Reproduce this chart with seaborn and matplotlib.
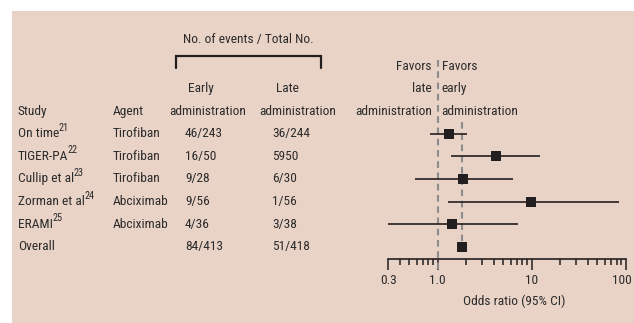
import matplotlib
matplotlib.use("Agg")
import matplotlib.pyplot as plt
import matplotlib.transforms as mtransforms
from matplotlib import font_manager as fm
from matplotlib.patches import Rectangle
import numpy as np
import pandas as pd
import seaborn as sns

# ---- data -------------------------------------------------------------
studies = ["On time", "TIGER-PA", "Cullip et al", "Zorman et al", "ERAMI", "Overall"]
refs = ["21", "22", "23", "24", "25", ""]
agents = ["Tirofiban", "Tirofiban", "Tirofiban", "Abciximab", "Abciximab", ""]
early = ["46/243", "16/50", "9/28", "9/56", "4/36", "84/413"]
late = ["36/244", "5950", "6/30", "1/56", "3/38", "51/418"]
odds_ratio = [1.34, 4.14, 1.88, 9.9, 1.43, 1.8]
ci_low = [0.84, 1.40, 0.58, 1.29, 0.30, np.nan]
ci_high = [2.07, 12.4, 6.3, 85.7, 7.15, np.nan]
tick_values = [0.3, 1.0, 10, 100]
tick_labels = ["0.3", "1.0", "10", "100"]

df = pd.DataFrame({"study": studies, "or": odds_ratio, "lo": ci_low,
                   "hi": ci_high, "row": np.arange(len(studies))})

# ---- style ------------------------------------------------------------
sns.set_theme(style="white")


def pick_condensed_font():
    """Return a FontProperties for a narrow regular sans face if one exists."""
    prefs = ["Roboto Condensed", "Liberation Sans Narrow", "Open Sans Condensed",
             "Noto Sans Condensed", "DejaVu Sans Condensed", "Arial Narrow"]
    entries = fm.fontManager.ttflist
    for name in prefs:
        for f in entries:
            if f.name == name and f.style == "normal" and f.weight in (400, "normal", "regular"):
                return fm.FontProperties(fname=f.fname), True
    for f in entries:
        st = f.stretch
        narrow = ("condensed" in str(st) and "semi" not in str(st)) or \
                 (isinstance(st, (int, float)) and st <= 300) or \
                 "Condensed" in f.fname or "Narrow" in f.fname
        if narrow and f.style == "normal" and f.weight in (400, "normal", "regular") \
                and "Mono" not in f.name and "Serif" not in f.name:
            return fm.FontProperties(fname=f.fname), True
    return fm.FontProperties(family="Roboto"), False


FP, is_narrow = pick_condensed_font()
TXT = "#2b2b2b"
INK = "#231f20"
BG = "#e9d3c7"
FS = 9.6 if is_narrow else 8.3
FS_SUP = 7.4 if is_narrow else 6.4

W, H = 634, 323
fig = plt.figure(figsize=(W / 100, H / 100), dpi=100)
fig.patch.set_facecolor("white")
fig.patches.append(Rectangle((12 / W, 0), 1 - 12 / W, 1 - 11 / H,
                             transform=fig.transFigure, facecolor=BG,
                             edgecolor="none", zorder=-10))

# forest axes: x spans 0.3..100 (log), y in row units
x0, x1 = 388.3, 625.7
row0, rowstep = 133.7, 22.6


def row_of(py):
    return (py - row0) / rowstep


ax = fig.add_axes([x0 / W, 0, (x1 - x0) / W, 1 - 11 / H])
ax.set_facecolor("none")
ax.set_xscale("log")
ax.set_xlim(0.3, 100)
ax.set_ylim(row_of(H), row_of(11))

# reference lines
dash = dict(color="#8c8c8c", linewidth=1.5, linestyles=(0, (3.2, 2.2)))
ax.vlines(1.0, row_of(60), row_of(270), **dash)
ax.vlines(odds_ratio[-1], row_of(122), 5 - 0.2, **dash)

# confidence intervals and point estimates
ax.hlines(df["row"], df["lo"], df["hi"], color=INK, linewidth=1.2, zorder=3)
sns.scatterplot(data=df, x="or", y="row", marker="s", s=62, color=INK,
                edgecolor=INK, linewidth=0, ax=ax, zorder=4, legend=False)

# axis styling
for s in ["top", "right", "left"]:
    ax.spines[s].set_visible(False)
ax.spines["bottom"].set_position(("data", row_of(259)))
ax.spines["bottom"].set_color(INK)
ax.spines["bottom"].set_linewidth(1.2)
ax.set_yticks([])
ax.set_xticks(tick_values)
ax.set_xticklabels(tick_labels)
minor = [v for d in (0.1, 1, 10) for v in np.arange(2, 10) * d if 0.3 < v < 100]
ax.set_xticks(minor, minor=True)
ax.xaxis.set_minor_formatter(matplotlib.ticker.NullFormatter())
ax.tick_params(axis="x", which="major", direction="out", length=8, width=1.1,
               color=INK, labelcolor=TXT, pad=2.5, bottom=True)
ax.tick_params(axis="x", which="minor", direction="out", length=4.5, width=1.1,
               color=INK, bottom=True)
for lab in ax.get_xticklabels():
    lab.set_fontproperties(FP)
    lab.set_fontsize(FS)
# keep the rightmost tick label inside the panel
last = ax.get_xticklabels()[-1]
last.set_horizontalalignment("right")
last.set_transform(last.get_transform() +
                   mtransforms.ScaledTranslation(6 / 100, 0, fig.dpi_scale_trans))
ax.set_xlabel("")
ax.set_ylabel("")

# text columns (x in figure pixels, y in rows)
tr = mtransforms.blended_transform_factory(fig.transFigure, ax.transData)


def put(px, row, s, ha="left", size=FS, **kw):
    return ax.text(px / W, row, s, transform=tr, ha=ha, va="center",
                   fontproperties=FP, fontsize=size, color=TXT, **kw)


put(18, -1, "Study")
put(112.7, -1, "Agent")
put(207.3, -1, "administration", ha="center")
put(298, -1, "administration", ha="center")
put(200.5, -2, "Early", ha="center")
put(287, -2, "Late", ha="center")
put(248.3, row_of(39.3), "No. of events / Total No.", ha="center")

# bracket over the event columns
ax.plot(np.array([176, 176, 321, 321]) / W,
        [row_of(68), row_of(56), row_of(56), row_of(68)],
        transform=tr, color=INK, linewidth=1.6, clip_on=False,
        solid_joinstyle="miter")

renderer = fig.canvas.get_renderer()
for i in range(len(studies)):
    base = put(18, i, studies[i])
    if refs[i]:
        bb = base.get_window_extent(renderer)
        ax.text((bb.x1 - 0.5) / W, i - 0.26, refs[i], transform=tr, ha="left",
                va="center", fontproperties=FP, fontsize=FS_SUP, color=TXT)
    put(112.7, i, agents[i])
    put(185, i, early[i])
    put(272, i, late[i])

# favours annotations
put(431.7, row_of(66.7), "Favors", ha="right")
put(431.7, -2, "late", ha="right")
put(431.7, -1, "administration", ha="right")
put(441.7, row_of(66.7), "Favors")
put(441.7, -2, "early")
put(441.7, -1, "administration")

put(514.3, row_of(301.7), "Odds ratio (95% CI)", ha="center")

fig.savefig("out.png", dpi=100, facecolor=fig.get_facecolor())
